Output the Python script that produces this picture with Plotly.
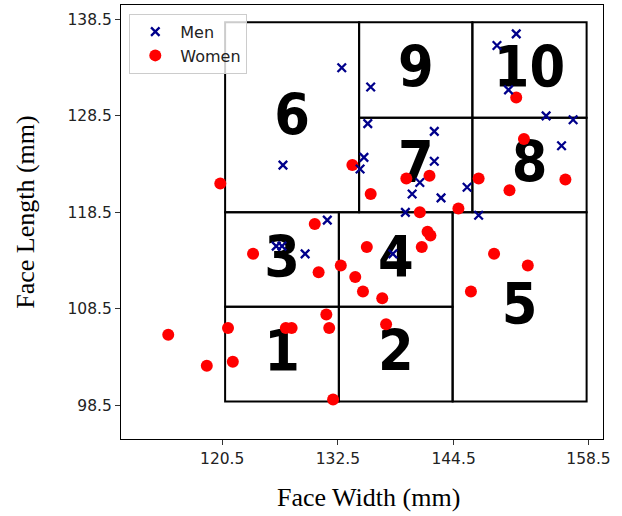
import plotly.graph_objects as go

# Face measurements (mm)
men_width = [132.9, 126.8, 135.9, 151.0, 149.0, 150.2, 154.1, 156.9, 155.7, 145.9,
             147.1, 135.6, 142.5, 135.2, 134.8, 142.5, 141.0, 140.2, 143.2, 139.5,
             131.4, 126.1, 126.7, 129.1, 138.2]
men_length = [133.5, 123.4, 131.5, 137.0, 135.8, 131.2, 128.5, 128.1, 125.4, 121.1,
              118.2, 127.7, 126.9, 124.2, 123.0, 123.8, 121.6, 120.4, 120.0, 118.5,
              117.7, 115.0, 115.0, 114.2, 114.2]

women_width = [134.0, 120.3, 151.0, 151.8, 156.1, 150.3, 147.1, 142.0, 139.6, 135.9,
               145.0, 141.0, 130.1, 123.7, 130.5, 132.8, 134.3, 135.1, 135.5, 131.3,
               131.6, 127.1, 127.7, 121.1, 114.9, 118.9, 121.6, 132.0, 141.8, 142.1,
               141.2, 137.1, 137.5, 148.7, 152.2, 146.3]
women_length = [123.4, 121.5, 130.4, 126.1, 121.9, 120.8, 122.0, 122.3, 122.0, 120.4,
                118.9, 118.5, 117.3, 114.2, 112.3, 113.0, 111.8, 110.3, 114.9, 107.9,
                106.5, 106.5, 106.5, 106.5, 105.8, 102.6, 103.0, 99.1, 116.5, 116.1,
                114.9, 109.6, 106.9, 114.2, 113.0, 110.3]

# Size-chart regions: label and bounds (width range, length range)
region_labels = ["1", "2", "3", "4", "5", "6", "7", "8", "9", "10"]
region_x0 = [120.8, 132.6, 120.8, 132.6, 144.4, 120.8, 134.7, 146.45, 134.7, 146.45]
region_x1 = [132.6, 144.4, 132.6, 144.4, 158.3, 134.7, 146.45, 158.3, 146.45, 158.3]
region_y0 = [98.9, 98.9, 108.7, 108.7, 98.9, 118.5, 118.5, 118.5, 128.3, 128.3]
region_y1 = [108.7, 108.7, 118.5, 118.5, 118.5, 138.2, 128.3, 128.3, 138.2, 138.2]

x_ticks = [120.5, 132.5, 144.5, 158.5]
y_ticks = [98.5, 108.5, 118.5, 128.5, 138.5]

# Region outlines
shapes = []
for x0, x1, y0, y1 in zip(region_x0, region_x1, region_y0, region_y1):
    shapes.append(dict(type="rect", xref="x", yref="y", x0=x0, x1=x1, y0=y0, y1=y1,
                       line=dict(color="black", width=2), fillcolor="rgba(0,0,0,0)",
                       layer="below"))

# Region numbers, centred in each box (slightly lowered), drawn beneath the points
label_x = [(a + b) / 2 for a, b in zip(region_x0, region_x1)]
label_y = [(a + b) / 2 - 0.3 for a, b in zip(region_y0, region_y1)]

fig = go.Figure()

fig.add_trace(go.Scatter(
    x=label_x, y=label_y, mode="text", text=region_labels,
    textposition="middle center", showlegend=False, hoverinfo="skip",
    textfont=dict(family="DejaVu Sans Condensed", size=57, color="black", weight="bold"),
))
fig.add_trace(go.Scatter(
    x=women_width, y=women_length, mode="markers", name="Women",
    legendrank=2,
    marker=dict(symbol="circle", size=12, color="#ff0000", line=dict(width=0)),
))
fig.add_trace(go.Scatter(
    x=men_width, y=men_length, mode="markers", name="Men",
    legendrank=1,
    marker=dict(symbol="x-thin", size=8.5, color="#00008b",
                line=dict(width=2.3, color="#00008b")),
))

annotations = [
    dict(x=0.514, y=-0.134, xref="paper", yref="paper",
         text="Face Width (mm)", showarrow=False,
         xanchor="center", yanchor="middle",
         font=dict(family="Liberation Serif", size=26, color="black")),
    dict(x=-0.198, y=0.5225, xref="paper", yref="paper",
         text="Face Length (mm)", showarrow=False, textangle=-90,
         xanchor="center", yanchor="middle",
         font=dict(family="Liberation Serif", size=26, color="black")),
]

axis_common = dict(showgrid=False, zeroline=False, showline=True, linecolor="black",
                   linewidth=1.2, mirror=True, ticks="outside", ticklen=5, tickwidth=1,
                   tickcolor="#333", tickfont=dict(family="DejaVu Sans", size=15.5,
                                                   color="#222"))

fig.update_layout(
    width=622, height=516,
    margin=dict(l=121, r=19, t=5, b=77),
    paper_bgcolor="white", plot_bgcolor="white",
    shapes=shapes, annotations=annotations,
    xaxis=dict(range=[110, 160], tickvals=x_ticks, ticktext=[str(v) for v in x_ticks],
               **axis_common),
    yaxis=dict(range=[95, 140], tickvals=y_ticks, ticktext=[str(v) for v in y_ticks],
               **axis_common),
    legend=dict(x=0.0172, y=0.98, xanchor="left", yanchor="top",
                bgcolor="rgba(255,255,255,0.8)", bordercolor="#cccccc", borderwidth=1,
                itemwidth=40, tracegroupgap=0,
                font=dict(family="DejaVu Sans", size=16, color="#222")),
    showlegend=True,
)

fig.write_html("out.html")
